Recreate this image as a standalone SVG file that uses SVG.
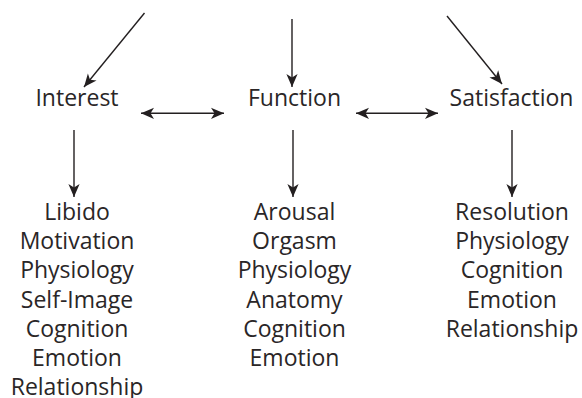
<svg xmlns="http://www.w3.org/2000/svg" width="582" height="398" viewBox="0 0 582 398">
<defs>
<marker id="ah" viewBox="-14 -7 15 14" refX="0" refY="0" markerWidth="15" markerHeight="14" markerUnits="userSpaceOnUse" orient="auto-start-reverse">
<path d="M0,0 L-13,-5.6 L-9.5,0 L-13,5.6 Z" fill="#231f20"/>
</marker>
<style>
text{font-family:"Open Sans","Liberation Sans",sans-serif;font-size:23px;fill:#2a2627;text-anchor:middle}
.c line{stroke:#231f20;stroke-width:1.4;fill:none}
</style>
</defs>
<rect width="582" height="398" fill="#fff"/>
<g id="interest"><text x="77" y="106">Interest</text></g>
<g id="function"><text x="294.5" y="106">Function</text></g>
<g id="satisfaction"><text x="511.5" y="106">Satisfaction</text></g>
<g id="interest-factors">
<text x="77" y="220">Libido</text>
<text x="77" y="249.2">Motivation</text>
<text x="77" y="278.4">Physiology</text>
<text x="77" y="307.6">Self-Image</text>
<text x="77" y="336.8">Cognition</text>
<text x="77" y="366">Emotion</text>
<text x="77" y="394.5">Relationship</text>
</g>
<g id="function-factors">
<text x="294.5" y="220">Arousal</text>
<text x="294.5" y="249.2">Orgasm</text>
<text x="294.5" y="278.4">Physiology</text>
<text x="294.5" y="307.6">Anatomy</text>
<text x="294.5" y="336.8">Cognition</text>
<text x="294.5" y="366">Emotion</text>
</g>
<g id="satisfaction-factors">
<text x="512" y="220">Resolution</text>
<text x="512" y="249.2">Physiology</text>
<text x="512" y="278.4">Cognition</text>
<text x="512" y="307.6">Emotion</text>
<text x="512" y="336.8">Relationship</text>
</g>
<g id="connectors" class="c">
<line x1="144.5" y1="13" x2="84" y2="87" marker-end="url(#ah)"/>
<line x1="292" y1="19" x2="292" y2="87" marker-end="url(#ah)"/>
<line x1="447" y1="16" x2="502" y2="84" marker-end="url(#ah)"/>
<line x1="141" y1="113.3" x2="224" y2="113.3" marker-start="url(#ah)" marker-end="url(#ah)"/>
<line x1="356" y1="113.3" x2="438" y2="113.3" marker-start="url(#ah)" marker-end="url(#ah)"/>
<line x1="74" y1="130" x2="74" y2="197" marker-end="url(#ah)"/>
<line x1="293" y1="130" x2="293" y2="197" marker-end="url(#ah)"/>
<line x1="512" y1="130" x2="512" y2="197" marker-end="url(#ah)"/>
</g>
</svg>
